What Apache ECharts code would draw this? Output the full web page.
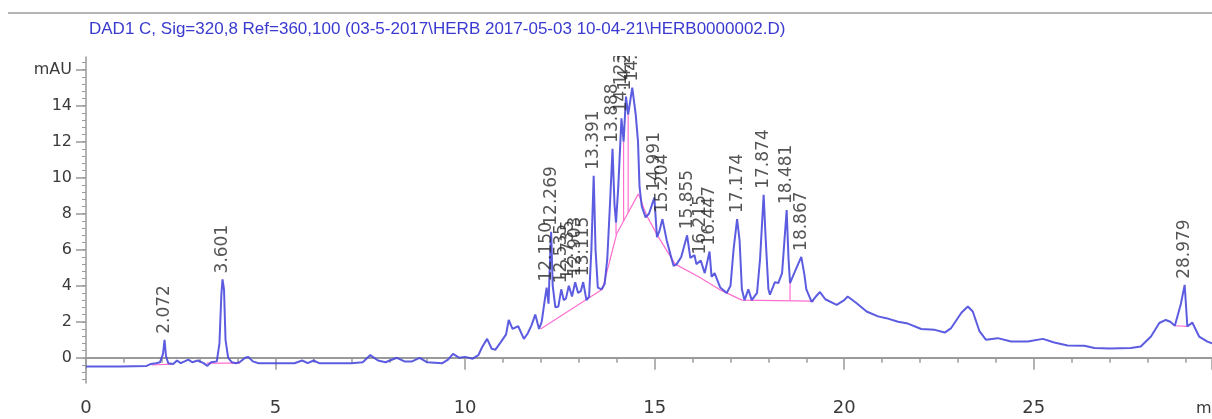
<!DOCTYPE html>
<html>
<head>
<meta charset="utf-8">
<script src="https://cdn.jsdelivr.net/npm/echarts@6/dist/echarts.min.js"></script>
<style>
  html, body { margin: 0; padding: 0; background: #fff; }
  #chrom { width: 1212px; height: 419px; }
</style>
</head>
<body>
<div id="chrom"></div>
<script>
// retention time (min) and detector signal (mAU)
var times = [
  0.0, 0.9, 1.6, 1.7, 1.85, 1.95, 2.03, 2.072, 2.11, 2.17, 2.3, 2.4, 2.5, 2.6, 2.7, 2.8, 2.95, 3.1, 3.2, 3.3,
  3.45, 3.52, 3.57, 3.601, 3.64, 3.68, 3.75, 3.85, 3.95, 4.05, 4.2, 4.28, 4.4, 4.55, 5.2, 5.5, 5.7, 5.85, 6.0, 6.15,
  7.0, 7.3, 7.5, 7.7, 7.9, 8.2, 8.4, 8.6, 8.8, 9.0, 9.4, 9.55, 9.68, 9.85, 10.0, 10.2, 10.35, 10.45, 10.58, 10.7,
  10.8, 10.95, 11.08, 11.15, 11.25, 11.4, 11.55, 11.65, 11.75, 11.85, 11.95, 12.02, 12.1, 12.15, 12.2, 12.24, 12.269, 12.31, 12.38, 12.46,
  12.535, 12.6, 12.66, 12.735, 12.82, 12.903, 12.98, 13.05, 13.115, 13.2, 13.27, 13.33, 13.391, 13.44, 13.5, 13.6, 13.68, 13.75, 13.82, 13.888,
  13.94, 13.98, 14.04, 14.123, 14.18, 14.243, 14.3, 14.408, 14.5, 14.56, 14.6, 14.66, 14.76, 14.85, 14.991, 15.06, 15.12, 15.204, 15.32, 15.42,
  15.5, 15.58, 15.7, 15.855, 15.94, 16.05, 16.1, 16.215, 16.32, 16.447, 16.5, 16.58, 16.73, 16.9, 17.0, 17.08, 17.174, 17.24, 17.3, 17.37,
  17.47, 17.56, 17.7, 17.78, 17.874, 17.93, 18.0, 18.04, 18.17, 18.26, 18.36, 18.481, 18.53, 18.57, 18.7, 18.867, 18.95, 19.0, 19.14, 19.25,
  19.36, 19.5, 19.8, 20.0, 20.09, 20.32, 20.59, 20.89, 21.11, 21.42, 21.68, 22.03, 22.39, 22.65, 22.82, 23.09, 23.26, 23.39, 23.57, 23.74,
  24.05, 24.4, 24.84, 25.24, 25.54, 25.89, 26.33, 26.6, 27.0, 27.56, 27.82, 28.09, 28.31, 28.48, 28.6, 28.72, 28.88, 28.979, 29.05, 29.18,
  29.36, 29.58, 29.7
];
var signal = [
  -0.48, -0.48, -0.45, -0.35, -0.3, -0.25, 0.2, 1.0, 0.1, -0.3, -0.35, -0.15, -0.3, -0.2, -0.1, -0.25, -0.15, -0.3, -0.45, -0.25,
  -0.2, 0.8, 3.5, 4.35, 3.8, 1.0, 0.0, -0.25, -0.3, -0.25, 0.0, 0.05, -0.2, -0.3, -0.3, -0.3, -0.15, -0.3, -0.15, -0.3,
  -0.3, -0.25, 0.15, -0.15, -0.25, 0.0, -0.2, -0.2, 0.0, -0.25, -0.3, -0.1, 0.22, 0.0, 0.05, -0.05, 0.15, 0.6, 1.05, 0.5,
  0.45, 0.9, 1.3, 2.1, 1.6, 1.75, 1.05, 1.35, 1.8, 2.4, 1.6, 2.0, 3.2, 3.9, 3.0, 5.5, 7.0, 4.0, 2.8, 2.85,
  3.8, 3.2, 3.3, 4.0, 3.4, 4.2, 3.6, 3.7, 4.2, 3.2, 3.4, 6.0, 10.1, 6.0, 3.9, 3.8, 4.1, 5.5, 8.5, 11.6,
  8.5, 7.5, 9.5, 13.3, 12.0, 14.5, 13.5, 15.0, 13.5, 12.0, 9.5, 8.4, 7.8, 8.0, 8.9, 6.7, 7.0, 7.7, 6.5, 5.7,
  5.1, 5.2, 5.6, 6.8, 5.55, 5.7, 5.2, 5.4, 4.7, 5.9, 4.5, 4.7, 3.9, 3.6, 4.0, 6.0, 7.7, 6.5, 3.8, 3.2,
  3.8, 3.2, 3.6, 5.5, 9.05, 6.5, 3.8, 3.5, 4.2, 4.15, 4.7, 8.2, 5.5, 4.15, 4.8, 5.6, 4.6, 3.8, 3.1, 3.4,
  3.65, 3.25, 2.94, 3.2, 3.4, 3.04, 2.57, 2.3, 2.2, 2.0, 1.9, 1.6, 1.55, 1.4, 1.65, 2.5, 2.85, 2.57, 1.46, 1.0,
  1.09, 0.9, 0.9, 1.05, 0.85, 0.68, 0.67, 0.54, 0.52, 0.54, 0.63, 1.18, 1.93, 2.1, 2.0, 1.78, 3.0, 4.05, 1.74, 1.96,
  1.18, 0.9, 0.8
];

// integrated peaks (retention time labels)
var peakLabels = [
  '2.072', '3.601', '12.150', '12.269', '12.535', '12.735', '12.903', '13.115', '13.391', '13.888',
  '14.123', '14.243', '14.408', '14.991', '15.204', '15.855', '16.215', '16.447', '17.174', '17.874',
  '18.481', '18.867', '28.979'
];

// integration baseline, null = break
var baseTimes  = [1.73, 2.26, null, 3.18, 4.06, null, 11.99, 13.62, 14.0, 14.57, 14.8, 15.1, 15.54, 16.16, 16.7, 17.3, 19.2, null, 28.72, 29.05];
var baseValues = [-0.4, -0.35, null, -0.3, -0.3, null, 1.6, 3.8, 6.9, 9.1, 7.85, 6.7, 5.2, 4.5, 3.8, 3.2, 3.15, null, 1.78, 1.74];

// peak drop lines (time, from, to)
var dropTimes = [13.98, 14.18, 14.3, 18.57];
var dropFrom  = [6.85, 7.6, 8.05, 3.2];
var dropTo    = [7.5, 12.0, 13.5, 4.15];

var yTicks = [0, 2, 4, 6, 8, 10, 12, 14, 16];
var yMinor = [];
for (var m = -1.2; m <= 16.5; m += 0.4) yMinor.push(Math.round(m * 10) / 10);

var chart = echarts.init(document.getElementById('chrom'));

var trace = times.map(function (t, i) { return [t, signal[i]]; });
var base = baseTimes.map(function (t, i) { return t === null ? [null, null] : [t, baseValues[i]]; });
var drops = [];
dropTimes.forEach(function (t, i) {
  drops.push([t, dropFrom[i]], [t, dropTo[i]], [null, null]);
});
var peaks = peakLabels.map(function (lab) {
  var t = parseFloat(lab);
  var i = times.indexOf(t);
  return { name: lab, value: [t, signal[i]] };
});

var axisGray = '#9a9a9a';
var txt = '#3a3a3a';

option = {
  animation: false,
  grid: { left: 86, right: 0, top: 57, bottom: 36 },
  xAxis: {
    type: 'value',
    min: 0,
    max: 29.7,
    interval: 5,
    splitLine: { show: false },
    axisLine: { lineStyle: { color: axisGray, width: 2 } },
    axisTick: { length: 12, lineStyle: { color: axisGray, width: 1.5 } },
    minorTick: { show: true, splitNumber: 5, length: 5, lineStyle: { color: axisGray, width: 1.5 } },
    axisLabel: { showMaxLabel: false, color: txt, fontSize: 18, fontFamily: 'DejaVu Sans', margin: 16 }
  },
  yAxis: [{
    type: 'value',
    min: -1.4,
    max: 16.7,
    splitLine: { show: false },
    axisLine: { show: true, lineStyle: { color: axisGray, width: 1.5 } },
    axisTick: { show: true, customValues: yTicks, length: 10, lineStyle: { color: axisGray, width: 1.5 } },
    axisLabel: {
      customValues: yTicks, color: txt, fontSize: 16, fontFamily: 'DejaVu Sans', margin: 14,
      formatter: function (v) { return v === 16 ? 'mAU' : String(v); }
    }
  }, {
    type: 'value',
    position: 'left',
    min: -1.4,
    max: 16.7,
    splitLine: { show: false },
    axisLine: { show: false },
    axisTick: { show: true, customValues: yMinor, length: 4, lineStyle: { color: axisGray, width: 1 } },
    axisLabel: { show: false }
  }],
  graphic: [
    { type: 'rect', z: 50, shape: { x: 87, y: 16, width: 1130, height: 40 }, style: { fill: '#fff' } },
    { type: 'line', z: 51, shape: { x1: 8, y1: 13, x2: 1212, y2: 13 }, style: { stroke: '#b4b4b4', lineWidth: 2 } },
    {
      type: 'text', z: 52, left: 89, top: 21,
      style: {
        text: 'DAD1 C, Sig=320,8 Ref=360,100 (03-5-2017\\HERB 2017-05-03 10-04-21\\HERB0000002.D)',
        fill: '#3a3ad0', font: '17px "Liberation Sans", Arial, sans-serif'
      }
    },
    {
      type: 'text', z: 52, left: 1196, top: 401,
      style: { text: 'min', fill: txt, font: '16px "DejaVu Sans", sans-serif' }
    }
  ],
  series: [{
    name: 'baseline',
    type: 'line',
    data: base,
    showSymbol: false,
    connectNulls: false,
    lineStyle: { color: '#ff6fcf', width: 1.2 },
    z: 2
  }, {
    name: 'drop',
    type: 'line',
    data: drops,
    showSymbol: false,
    connectNulls: false,
    lineStyle: { color: '#ff6fcf', width: 1.2 },
    z: 2
  }, {
    name: 'DAD1 C',
    type: 'line',
    data: trace,
    showSymbol: false,
    lineStyle: { color: '#4a4ade', width: 2, opacity: 0.9 },
    z: 3
  }, {
    name: 'peaks',
    type: 'scatter',
    data: peaks,
    symbolSize: 0,
    z: 4,
    label: {
      show: true,
      position: 'top',
      distance: 6,
      rotate: 90,
      align: 'left',
      verticalAlign: 'middle',
      formatter: '{b}',
      color: '#2a2a2a',
      fontSize: 17,
      fontFamily: 'DejaVu Sans'
    }
  }]
};

chart.setOption(option, true);
</script>
</body>
</html>
